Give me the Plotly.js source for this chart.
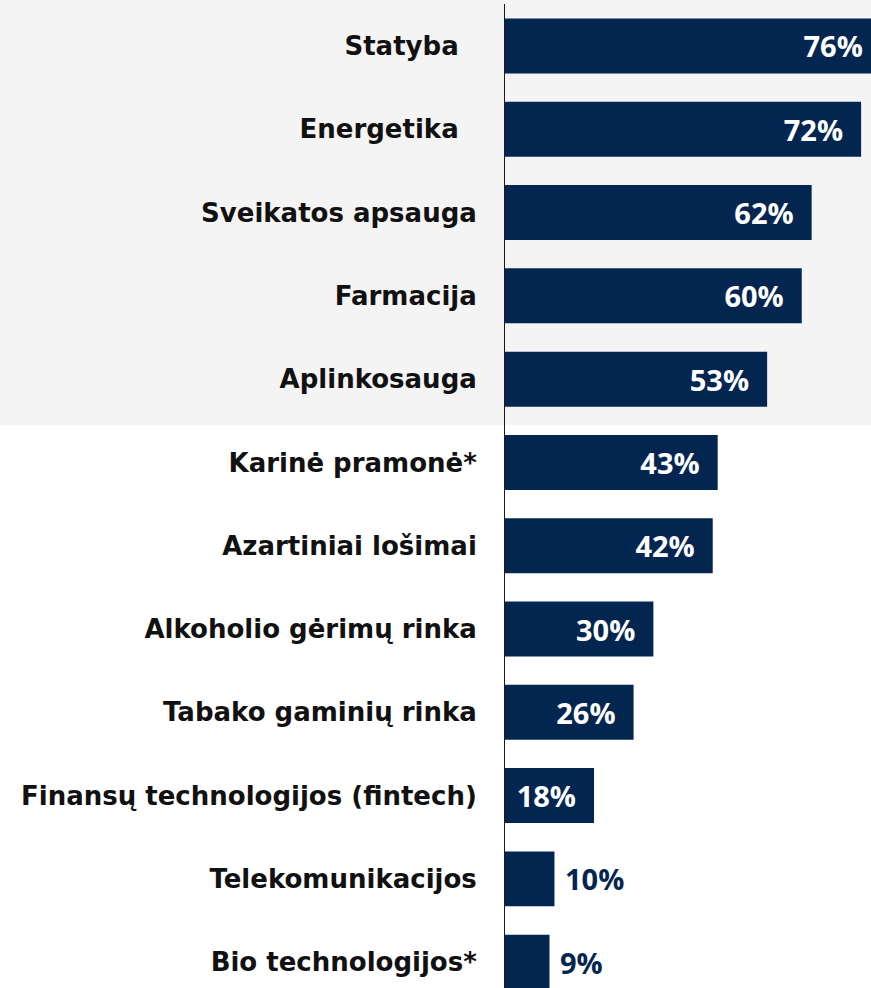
<!DOCTYPE html>
<html>
<head>
<meta charset="utf-8">
<script src="https://cdn.plot.ly/plotly-3.0.1.min.js"></script>
<style>
  html, body { margin: 0; padding: 0; background: #ffffff; }
  #chart { width: 871px; height: 988px; }
</style>
</head>
<body>
<div id="chart"></div>
<script>
// Data
var categories = [
  "Statyba\u00a0\u00a0",
  "Energetika\u00a0\u00a0",
  "Sveikatos apsauga",
  "Farmacija",
  "Aplinkosauga",
  "Karinė pramonė*",
  "Azartiniai lošimai",
  "Alkoholio gėrimų rinka",
  "Tabako gaminių rinka",
  "Finansų technologijos (fintech)",
  "Telekomunikacijos",
  "Bio technologijos*"
];
var values = [76, 72, 62, 60, 53, 43, 42, 30, 26, 18, 10, 9];
var insideThreshold = 15;

var navy = "#032650";

var labels = values.map(function (v) {
  return v >= insideThreshold ? v + "%\u00a0\u00a0" : "\u00a0" + v + "%";
});
var positions = values.map(function (v) {
  return v >= insideThreshold ? "inside" : "outside";
});

var trace = {
  type: "bar",
  orientation: "h",
  y: categories,
  x: values,
  marker: { color: navy, line: { width: 0 } },
  width: 0.66,
  text: labels,
  textposition: positions,
  insidetextanchor: "end",
  constraintext: "none",
  insidetextfont: { family: "Open Sans", size: 29, color: "#ffffff", weight: 700 },
  outsidetextfont: { family: "Open Sans", size: 29, color: navy, weight: 700 },
  cliponaxis: true,
  hoverinfo: "none"
};

var layout = {
  width: 871,
  height: 988,
  margin: { l: 505, r: 0, t: 4, b: 0, pad: 0 },
  paper_bgcolor: "#ffffff",
  plot_bgcolor: "rgba(0,0,0,0)",
  showlegend: false,
  xaxis: {
    range: [0, 74.0],
    showgrid: false,
    zeroline: false,
    showticklabels: false,
    showline: false,
    ticks: "",
    fixedrange: true
  },
  yaxis: {
    type: "category",
    categoryorder: "array",
    categoryarray: categories,
    range: [11.31, -0.504],
    showgrid: false,
    zeroline: false,
    showline: true,
    linecolor: "#1a1a1a",
    linewidth: 1,
    ticks: "",
    ticklabelstandoff: 22,
    tickfont: { family: "DejaVu Sans", size: 26, color: "#111111", weight: 700 },
    automargin: false,
    fixedrange: true
  },
  shapes: [
    {
      type: "rect",
      xref: "paper",
      yref: "paper",
      x0: -1.5,
      x1: 1.5,
      y0: (988 - 425) / 984,
      y1: 1.1,
      fillcolor: "#f4f4f4",
      line: { width: 0 },
      layer: "below"
    }
  ]
};

Plotly.newPlot("chart", [trace], layout, { displayModeBar: false, staticPlot: true });
</script>
</body>
</html>
